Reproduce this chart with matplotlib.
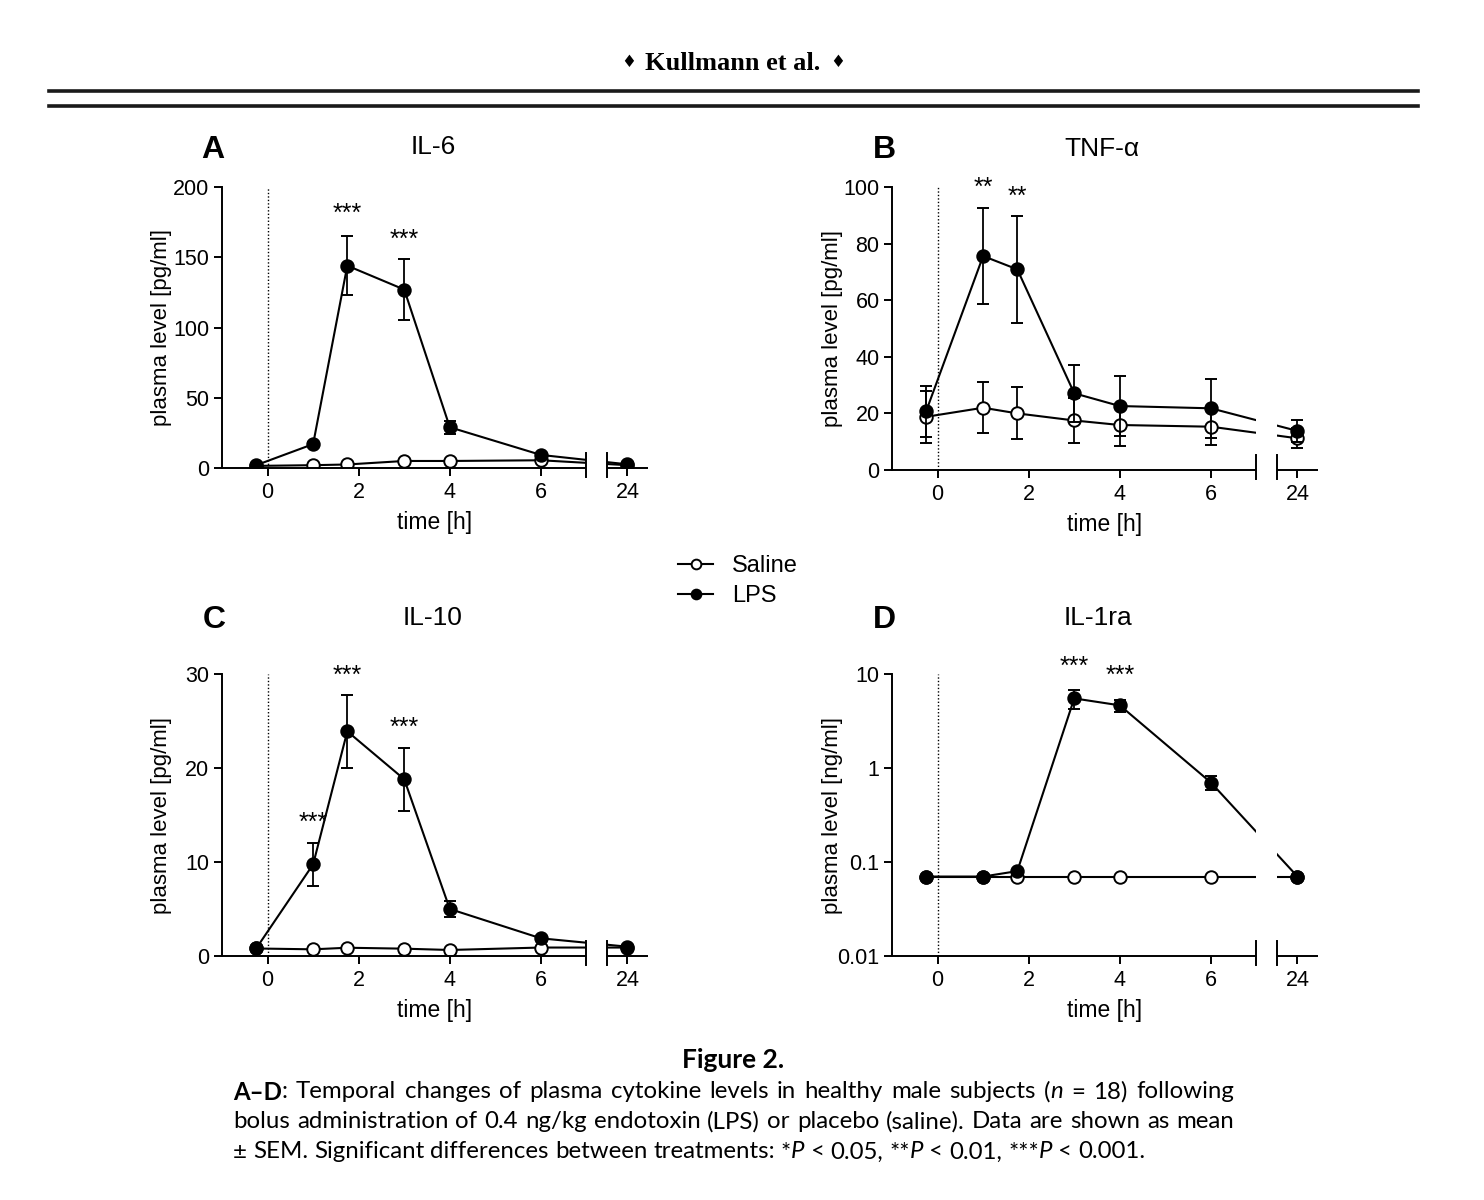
import matplotlib
matplotlib.use("Agg")
import matplotlib.pyplot as plt
from matplotlib.lines import Line2D
from matplotlib.transforms import blended_transform_factory

plt.rcParams['font.family'] = ['Liberation Sans', 'DejaVu Sans']

W, H = 1484, 1200

# sampling times [h]; -0.25 = baseline before bolus
time_h = [-0.25, 1, 1.75, 3, 4, 6, 24]

il6_lps = [2, 17, 144, 127, 29, 9.3, 2.6]
il6_lps_sem = [0.5, 1.5, 21, 22, 4.6, 1.5, 0.5]
il6_saline = [1.5, 2, 2.5, 5, 5, 5.5, 2]
il6_saline_sem = [0.3, 0.3, 0.3, 0.5, 0.5, 0.5, 0.3]

tnf_lps = [20.8, 75.6, 70.9, 27.1, 22.6, 21.8, 13.8]
tnf_lps_sem = [9, 17, 19, 10, 10.7, 10.4, 4]
tnf_saline = [18.8, 22, 20, 17.5, 15.9, 15.3, 11.2]
tnf_saline_sem = [9.2, 9, 9.2, 8, 7.5, 6.6, 3.5]

il10_lps = [0.8, 9.75, 23.9, 18.8, 5.0, 1.88, 0.99]
il10_lps_sem = [0.1, 2.25, 3.85, 3.35, 0.85, 0.2, 0.1]
il10_saline = [0.8, 0.71, 0.88, 0.78, 0.64, 0.9, 0.9]
il10_saline_sem = [0.1, 0.1, 0.1, 0.1, 0.1, 0.1, 0.1]

il1ra_lps = [0.07, 0.07, 0.08, 5.5, 4.64, 0.7, 0.07]
il1ra_lps_sem = [0, 0, 0, 1.3, 0.7, 0.12, 0]
il1ra_saline = [0.07, 0.07, 0.07, 0.07, 0.07, 0.07, 0.07]
il1ra_saline_sem = [0, 0, 0, 0, 0, 0, 0]

# significance marks: (time, level, label)
il6_stars = [(1.75, 185, '***'), (3, 166, '***')]
tnf_stars = [(1, 101.5, '**'), (1.75, 98.6, '**')]
il10_stars = [(1, 14.8, '***'), (1.75, 30.4, '***'), (3, 24.9, '***')]
il1ra_stars = [(3, 13.7, '***'), (4, 11.0, '***')]

xtick_vals = [0, 2, 4, 6, 24]

# broken x axis: 0..7 h, then a short segment around 24 h
GAP_L, GAP_R, X24, XMAX = 7.0, 7.45, 7.9, 8.35


def brk(t):
    return t if t <= GAP_L else X24 + (t - 24)


def px_rect(l, t, r, b):
    return [l / W, 1 - b / H, (r - l) / W, (b - t) / H]


def ftext(x, y, s, **kw):
    return fig.text(x / W, 1 - y / H, s, **kw)


def panel(rect, lps, lps_sem, sal, sal_sem, stars, ylim, yticks, ylabel, log=False):
    ax = fig.add_axes(px_rect(*rect))
    xs = [brk(t) for t in time_h]
    style = dict(fmt='o-', color='black', lw=1.5, ms=9, mew=1.4,
                 capsize=4.3, elinewidth=1.3, capthick=1.3)
    ax.errorbar(xs, sal, yerr=sal_sem, mfc='white', zorder=3, **style)
    ax.errorbar(xs, lps, yerr=lps_sem, mfc='black', zorder=4, **style)
    if log:
        ax.set_yscale('log')
    ax.set_ylim(*ylim)
    ax.set_yticks(yticks)
    ax.set_yticklabels([f'{v:g}' for v in yticks])
    ax.minorticks_off()
    ax.set_xlim(-1, XMAX)
    ax.set_xticks([brk(t) for t in xtick_vals])
    ax.set_xticklabels([str(t) for t in xtick_vals])
    ax.axvline(0, ls=(0, (1, 1.5)), lw=1, color='black', zorder=1)
    ax.axvspan(GAP_L, GAP_R, color='white', zorder=5, lw=0)
    for s in ['top', 'right', 'bottom']:
        ax.spines[s].set_visible(False)
    ax.spines['left'].set_linewidth(1.4)
    ax.tick_params(direction='out', length=6, width=1.4, labelsize=15.5, pad=3)
    ax.tick_params(axis='x', pad=4)
    tr = blended_transform_factory(ax.transData, ax.transAxes)
    for a, b in [(-1, GAP_L), (GAP_R, XMAX)]:
        ax.plot([a, b], [0, 0], color='black', lw=1.4, transform=tr,
                clip_on=False, zorder=6, solid_capstyle='butt')
    for g in (GAP_L, GAP_R):
        ax.plot([g, g], [-0.032, 0.053], color='black', lw=1.4, transform=tr,
                clip_on=False, zorder=6)
    for t, v, s in stars:
        ax.annotate(s, (brk(t), v), xytext=(0, -9), textcoords='offset points',
                    ha='center', va='baseline', fontsize=18, annotation_clip=False)
    ax.set_xlabel('time [h]', fontsize=16.5, labelpad=6)
    ax.set_ylabel(ylabel, fontsize=16)
    ax.yaxis.label.set_va('center')
    ax.yaxis.set_label_coords(-60 / (rect[2] - rect[0]), 0.5)
    return ax


fig = plt.figure(figsize=(W / 100, H / 100), dpi=100)

# running head
serif = ['Liberation Serif', 'DejaVu Sans']
ftext(733, 63, 'Kullmann et al.', ha='center', va='center', fontsize=19,
      fontweight='bold', family=serif)
for x in (629, 838):
    ftext(x, 62, '\u2666', ha='center', va='center', fontsize=12, family=['DejaVu Sans'])
for yy in (91, 106):
    fig.add_artist(Line2D([49 / W, 1418 / W], [1 - yy / H] * 2, color='#1a1a1a', lw=2.6))

axA = panel((222, 187, 648, 468), il6_lps, il6_lps_sem, il6_saline, il6_saline_sem,
            il6_stars, (0, 200), [0, 50, 100, 150, 200], 'plasma level [pg/ml]')
axB = panel((892, 187, 1318, 470), tnf_lps, tnf_lps_sem, tnf_saline, tnf_saline_sem,
            tnf_stars, (0, 100), [0, 20, 40, 60, 80, 100], 'plasma level [pg/ml]')
axC = panel((222, 674, 648, 956), il10_lps, il10_lps_sem, il10_saline, il10_saline_sem,
            il10_stars, (0, 30), [0, 10, 20, 30], 'plasma level [pg/ml]')
axD = panel((892, 674, 1318, 956), il1ra_lps, il1ra_lps_sem, il1ra_saline, il1ra_saline_sem,
            il1ra_stars, (0.01, 10), [0.01, 0.1, 1, 10], 'plasma level [ng/ml]', log=True)

for (x, y, s) in [(213, 150, 'A'), (884, 150, 'B'), (214, 620, 'C'), (884, 620, 'D')]:
    ftext(x, y, s, ha='center', va='center', fontsize=23, fontweight='bold')
for (x, y, s) in [(433, 147, 'IL-6'), (1102, 149, 'TNF-\u03b1'),
                  (433, 618, 'IL-10'), (1098, 618, 'IL-1ra')]:
    ftext(x, y, s, ha='center', va='center', fontsize=19)

handles = [Line2D([], [], color='black', marker='o', lw=1.5, ms=7, mew=1.4, mfc=fc)
           for fc in ('white', 'black')]
fig.legend(handles, ['Saline', 'LPS'], loc='center', bbox_to_anchor=(738 / W, 1 - 581 / H),
           frameon=False, fontsize=17, handlelength=1.5, handletextpad=0.8,
           labelspacing=0.35)

# caption
cap_font = ['Lato', 'DejaVu Sans']
ftext(733, 1060, 'Figure 2.', ha='center', va='center', fontsize=19,
      fontweight='bold', family=cap_font)

N = {}
B = {'fontweight': 'bold'}
I = {'fontstyle': 'italic'}
cap_lines = [
    [[('A\u2013D', B), (':', N)], 'Temporal', 'changes', 'of', 'plasma', 'cytokine', 'levels',
     'in', 'healthy', 'male', 'subjects', [('(', N), ('n', I)], '=', '18)', 'following'],
    ['bolus', 'administration', 'of', '0.4', 'ng/kg', 'endotoxin', '(LPS)', 'or', 'placebo',
     '(saline).', 'Data', 'are', 'shown', 'as', 'mean'],
    ['\u00b1', 'SEM.', 'Significant', 'differences', 'between', 'treatments:',
     [('*', N), ('P', I)], '<', '0.05,', [('**', N), ('P', I)], '<', '0.01,',
     [('***', N), ('P', I)], '<', '0.001.'],
]
cap_y = [1092, 1122, 1152]
cap_x0, cap_x1 = 233, 1234
cap_size = 17.3

renderer = fig.canvas.get_renderer()


def place_line(tokens, y, justify):
    placed = []
    total = 0
    for tok in tokens:
        segs = [(tok, N)] if isinstance(tok, str) else tok
        items = []
        w = 0
        for s, kw in segs:
            t = fig.text(0, 1 - y / H, s, fontsize=cap_size, family=cap_font, va='center', **kw)
            sw = t.get_window_extent(renderer).width
            items.append((t, w))
            w += sw
        placed.append((items, w))
        total += w
    space = 6.0
    if justify:
        space = (cap_x1 - cap_x0 - total) / (len(placed) - 1)
    x = cap_x0
    for items, w in placed:
        for t, off in items:
            t.set_x((x + off) / W)
        x += w + space


for i, (tokens, y) in enumerate(zip(cap_lines, cap_y)):
    place_line(tokens, y, justify=(i < len(cap_lines) - 1))

fig.savefig('out.png', dpi=100)
